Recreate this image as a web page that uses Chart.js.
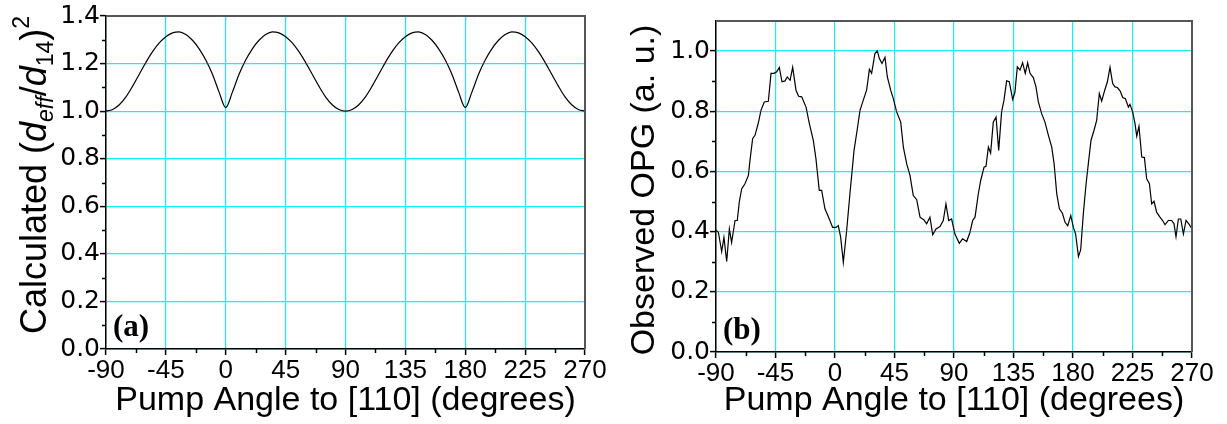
<!doctype html>
<html lang="en">
<head>
  <meta charset="utf-8">
  <title>Pump angle dependence</title>
  <script src="https://cdn.jsdelivr.net/npm/chart.js"></script>
  <style>
    body { margin: 0; background: #fff; }
    .panel { position: absolute; top: 0; height: 424px; }
  </style>
</head>
<body>

<div class="panel" style="left:0; width:613px;"><canvas id="chartA" width="613" height="424"></canvas></div>
<div class="panel" style="left:613px; width:614px;"><canvas id="chartB" width="614" height="424"></canvas></div>

<script>
  // tick positions
  const angleTicks = [-90, -45, 0, 45, 90, 135, 180, 225, 270];
  const angleMinor = [-67.5, -22.5, 22.5, 67.5, 112.5, 157.5, 202.5, 247.5];
  const yTicksA = [0, 0.2, 0.4, 0.6, 0.8, 1.0, 1.2, 1.4];
  const yMinorA = [0.1, 0.3, 0.5, 0.7, 0.9, 1.1, 1.3];
  const yTicksB = [0, 0.2, 0.4, 0.6, 0.8, 1.0];
  const yMinorB = [0.1, 0.3, 0.5, 0.7, 0.9];

  // (a) calculated (d_eff/d_14)^2
  const anglesA = [-90, -85, -80, -75, -70, -65, -60, -55, -50, -45, -40, -35, -30, -25, -20, -15, -10, -5,
    0, 5, 10, 15, 20, 25, 30, 35, 40, 45, 50, 55, 60, 65, 70, 75, 80, 85,
    90, 95, 100, 105, 110, 115, 120, 125, 130, 135, 140, 145, 150, 155, 160, 165, 170, 175,
    180, 185, 190, 195, 200, 205, 210, 215, 220, 225, 230, 235, 240, 245, 250, 255, 260, 265, 270];
  const calcA = [1.000, 1.007, 1.027, 1.060, 1.105, 1.155, 1.205, 1.250, 1.287, 1.313, 1.329, 1.333, 1.322, 1.298, 1.262, 1.215, 1.155, 1.080,
    1.015, 1.080, 1.155, 1.215, 1.262, 1.298, 1.322, 1.333, 1.329, 1.313, 1.287, 1.250, 1.205, 1.155, 1.105, 1.060, 1.027, 1.007,
    1.000, 1.007, 1.027, 1.060, 1.105, 1.155, 1.205, 1.250, 1.287, 1.313, 1.329, 1.333, 1.322, 1.298, 1.262, 1.215, 1.155, 1.080,
    1.015, 1.080, 1.155, 1.215, 1.262, 1.298, 1.322, 1.333, 1.329, 1.313, 1.287, 1.250, 1.205, 1.155, 1.105, 1.060, 1.027, 1.007, 1.000];

  // (b) observed OPG
  const anglesB = [-90, -88.2, -85.7, -84.0, -81.9, -79.9, -78.2, -75.6, -73.9, -72.4, -70.6, -68.1, -65.5, -64.3, -62.3, -60.5,
    -58.0, -56.0, -53.5, -50.4, -48.4, -46.1, -44.1, -42.1, -40.1, -37.8, -36.1, -34.0, -32.0, -29.5, -27.5, -25.2,
    -21.9, -19.4, -16.4, -14.4, -11.9, -10.1, -7.6, -4.3, -1.8, 0.8, 2.5, 4.3, 6.3, 8.8, 11.3, 14.4, 16.9, 18.9,
    21.4, 23.9, 26.0, 27.7, 30.2, 32.0, 33.5, 35.5, 37.8, 39.6, 42.1, 44.1, 46.6, 49.7, 51.7, 54.2, 56.7, 59.2,
    61.8, 64.3, 67.3, 69.3, 71.8, 73.9, 76.4, 79.4, 81.9, 83.9, 86.0, 88.2, 90.7, 94.0, 96.5, 99.6, 102.1, 104.1,
    105.9, 108.4, 110.2, 112.7, 114.2, 116.0, 117.7, 119.7, 121.8, 123.8, 126.0, 127.8, 129.8, 131.8, 134.4, 136.1,
    137.9, 139.9, 141.9, 143.9, 145.7, 147.5, 150.0, 152.0, 153.8, 156.3, 158.8, 161.4, 163.9, 165.7, 167.7, 169.7,
    172.0, 174.0, 176.0, 178.3, 180.3, 182.0, 184.1, 185.8, 187.8, 189.9, 191.6, 193.6, 195.9, 197.9, 199.9, 201.7,
    204.0, 206.0, 208.0, 210.0, 211.8, 213.5, 215.6, 217.6, 219.6, 221.9, 223.1, 225.1, 226.9, 228.2, 229.9, 232.0,
    234.0, 235.7, 237.8, 239.5, 241.3, 243.3, 245.8, 247.8, 249.6, 252.1, 254.6, 256.4, 257.9, 259.7, 261.5, 263.5,
    265.5, 268.0, 270.0];
  const opgB = [0.405, 0.398, 0.334, 0.381, 0.301, 0.409, 0.364, 0.437, 0.437, 0.498, 0.542, 0.559, 0.587, 0.637, 0.709, 0.720,
    0.761, 0.803, 0.831, 0.833, 0.926, 0.926, 0.931, 0.946, 0.898, 0.901, 0.914, 0.903, 0.946, 0.870, 0.850, 0.848,
    0.814, 0.759, 0.703, 0.642, 0.537, 0.537, 0.476, 0.442, 0.414, 0.414, 0.420, 0.381, 0.298, 0.403, 0.526, 0.670, 0.742, 0.803,
    0.837, 0.870, 0.939, 0.926, 0.992, 1.001, 0.976, 0.959, 0.979, 0.914, 0.870, 0.842, 0.798, 0.764, 0.681, 0.626, 0.587, 0.520,
    0.506, 0.448, 0.439, 0.426, 0.448, 0.390, 0.409, 0.417, 0.437, 0.492, 0.437, 0.442, 0.392, 0.361, 0.376, 0.367, 0.398, 0.437,
    0.448, 0.526, 0.570, 0.614, 0.617, 0.681, 0.661, 0.764, 0.781, 0.670, 0.798, 0.837, 0.901, 0.898, 0.839, 0.864,
    0.948, 0.937, 0.961, 0.926, 0.961, 0.926, 0.912, 0.881, 0.831, 0.792, 0.764, 0.720, 0.681, 0.626, 0.526, 0.476,
    0.461, 0.431, 0.420, 0.453, 0.414, 0.392, 0.317, 0.339, 0.459, 0.559, 0.626, 0.703, 0.737, 0.770, 0.859, 0.834,
    0.870, 0.898, 0.946, 0.892, 0.881, 0.879, 0.868, 0.846, 0.842, 0.814, 0.823, 0.798, 0.759, 0.717, 0.750, 0.648,
    0.646, 0.576, 0.559, 0.492, 0.501, 0.464, 0.448, 0.437, 0.423, 0.437, 0.437, 0.426, 0.383, 0.442, 0.442, 0.392,
    0.437, 0.423, 0.409];

  const SANS = '"Liberation Sans", Arial, sans-serif';
  const WIDE = '"DejaVu Sans", Verdana, sans-serif';
  const SERIF = '"Liberation Serif", "Times New Roman", serif';
  const GRID = 'rgb(25, 238, 248)';

  // frame, minor ticks, panel letter and rich y title
  const decorPlugin = {
    id: 'decor',
    afterDraw(chart, args, opts) {
      const ctx = chart.ctx;
      const a = chart.chartArea;
      const xs = chart.scales.x, ys = chart.scales.y;
      ctx.save();
      // top / right frame
      ctx.strokeStyle = '#555';
      ctx.lineWidth = 2;
      ctx.beginPath();
      ctx.moveTo(a.left, a.top);
      ctx.lineTo(a.right, a.top);
      ctx.lineTo(a.right, a.bottom);
      ctx.stroke();
      // minor ticks
      ctx.strokeStyle = '#000';
      ctx.lineWidth = 1.5;
      ctx.beginPath();
      opts.minorX.forEach(v => {
        const px = Math.round(xs.getPixelForValue(v)) + 0.5;
        ctx.moveTo(px, a.bottom);
        ctx.lineTo(px, a.bottom + 4);
      });
      opts.minorY.forEach(v => {
        const py = Math.round(ys.getPixelForValue(v)) + 0.5;
        ctx.moveTo(a.left, py);
        ctx.lineTo(a.left - 4, py);
      });
      ctx.stroke();
      // panel letter
      ctx.fillStyle = '#000';
      ctx.font = 'bold 31px ' + SERIF;
      ctx.textBaseline = 'alphabetic';
      ctx.textAlign = 'left';
      ctx.fillText(opts.letter, a.left + 7, a.bottom - 13);
      // y title
      ctx.translate(opts.titleX, opts.titleY);
      ctx.rotate(-Math.PI / 2);
      let total = 0;
      opts.title.forEach(p => { ctx.font = p.font; total += ctx.measureText(p.text).width; });
      let x = -total / 2;
      opts.title.forEach(p => {
        ctx.font = p.font;
        ctx.fillText(p.text, x, p.dy || 0);
        x += ctx.measureText(p.text).width;
      });
      ctx.restore();
    }
  };

  function makeChart(id, xs, ys, cfg) {
    const pts = xs.map((v, i) => ({x: v, y: ys[i]}));
    return new Chart(document.getElementById(id), {
      type: 'scatter',
      data: {
        datasets: [{
          data: pts,
          showLine: true,
          borderColor: '#000',
          borderWidth: 1.2,
          pointRadius: 0,
          cubicInterpolationMode: cfg.smooth ? 'monotone' : 'default',
          tension: 0
        }]
      },
      plugins: [decorPlugin],
      options: {
        responsive: false,
        animation: false,
        layout: {autoPadding: false, padding: cfg.padding},
        plugins: {
          legend: {display: false},
          tooltip: {enabled: false},
          decor: cfg.decor
        },
        scales: {
          x: {
            type: 'linear',
            min: -90,
            max: 270,
            afterBuildTicks: s => { s.ticks = angleTicks.map(v => ({value: v})); },
            afterFit: s => { s.height = cfg.xHeight; },
            ticks: {
              color: '#000',
              font: {family: SANS, size: 26},
              padding: 0,
              maxRotation: 0,
              autoSkip: false,
              callback: v => String(v)
            },
            grid: {color: GRID, lineWidth: 1.2, tickColor: '#000', tickLength: 6, tickWidth: 1.5},
            border: {color: '#000', width: 1.5},
            title: {
              display: true,
              text: 'Pump Angle to [110] (degrees)',
              color: '#000',
              font: {family: SANS, size: 34, lineHeight: 1.2},
              padding: {top: 0, bottom: 3}
            }
          },
          y: {
            type: 'linear',
            min: 0,
            max: cfg.yMax,
            afterBuildTicks: s => { s.ticks = cfg.yTicks.map(v => ({value: v})); },
            afterFit: s => { s.width = cfg.yWidth; },
            ticks: {
              color: '#000',
              font: {family: WIDE, size: 25},
              padding: 0,
              autoSkip: false,
              callback: v => v.toFixed(1)
            },
            grid: {color: GRID, lineWidth: 1.2, tickColor: '#000', tickLength: 6, tickWidth: 1.5},
            border: {color: '#000', width: 1.5}
          }
        }
      }
    });
  }

  const mainFont = '36px ' + SANS;
  const italFont = 'italic 36px ' + SANS;
  const smallFont = '23px ' + SANS;
  const smallItal = 'italic 23px ' + SANS;

  makeChart('chartA', anglesA, calcA, {
    smooth: true,
    yMax: 1.4,
    yTicks: yTicksA,
    yWidth: 106,
    xHeight: 75,
    padding: {left: 0, right: 28, top: 16, bottom: 0},
    decor: {
      minorX: angleMinor,
      minorY: yMinorA,
      letter: '(a)',
      titleX: 46,
      titleY: 175,
      title: [
        {text: 'Calculated (', font: mainFont},
        {text: 'd', font: italFont},
        {text: 'eff', font: smallItal, dy: 7},
        {text: '/', font: mainFont},
        {text: 'd', font: italFont},
        {text: '14', font: smallFont, dy: 7},
        {text: ')', font: mainFont},
        {text: '2', font: smallFont, dy: -17}
      ]
    }
  });

  makeChart('chartB', anglesB, opgB, {
    smooth: false,
    yMax: 1.1,
    yTicks: yTicksB,
    yWidth: 103,
    xHeight: 72,
    padding: {left: 0, right: 35, top: 21, bottom: 0},
    decor: {
      minorX: angleMinor,
      minorY: yMinorB,
      letter: '(b)',
      titleX: 41,
      titleY: 190,
      title: [
        {text: 'Observed OPG (a. u.)', font: '34px ' + SANS}
      ]
    }
  });
</script>
</body>
</html>
